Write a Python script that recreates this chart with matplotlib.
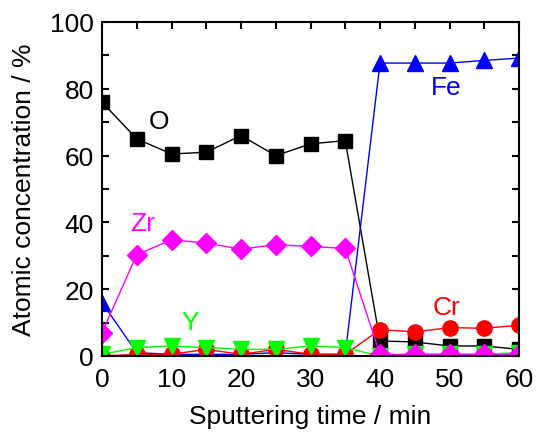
import numpy as np
import matplotlib.pyplot as plt
from matplotlib.ticker import MultipleLocator

plt.rcParams['font.family'] = ['Liberation Sans', 'DejaVu Sans']

# sputtering time (min)
t = [0, 5, 10, 15, 20, 25, 30, 35, 40, 45, 50, 55, 60]

# atomic concentrations (%)
O = [76, 65, 60.5, 61, 66, 60, 63.5, 64.5, 4.5, 4.2, 3, 3, 2]
Fe = [16, 1, 0.5, 0.5, 0.5, 1, 0.5, 0.5, 87.7, 87.7, 87.7, 88.5, 89.2]
Cr = [0, 0.5, 0.5, 2, 0.5, 2, 0.5, 0.5, 7.9, 7.2, 8.5, 8.3, 9.2]
Y = [0.5, 2.5, 3, 2.5, 2, 2, 3, 2.5, 0, 0.5, 0.5, 0.5, 1]
Zr = [7, 30.3, 34.8, 33.8, 32, 33.3, 32.8, 32.2, 0.5, 0.5, 0.5, 0.5, 0.5]

fig = plt.figure(figsize=(5.36, 4.35), dpi=100)
ax = fig.add_axes([102/536, 1 - 357/435, 417/536, 334/435])

ax.plot(t, O, color='black', marker='s', ms=10, lw=1)
ax.plot(t, Fe, color='blue', marker='^', ms=12, lw=1)
ax.plot(t, Cr, color='red', marker='o', ms=11, lw=1)
ax.plot(t, Y, color='#00ff00', marker='v', ms=12, lw=1)
ax.plot(t, Zr, color='magenta', marker='D', ms=10, lw=1)

# element labels
lab = dict(fontsize=19, ha='center', va='center')
ax.text(8.2, 70.4, 'O', color='black', **lab)
ax.text(49.5, 80.5, 'Fe', color='blue', **lab)
ax.text(5.9, 39.8, 'Zr', color='magenta', **lab)
ax.text(49.5, 14.7, 'Cr', color='red', **lab)
ax.text(12.7, 10.2, 'Y', color='#00ff00', **lab)

ax.set_xlim(0, 60)
ax.set_ylim(0, 100)
ax.xaxis.set_major_locator(MultipleLocator(10))
ax.xaxis.set_minor_locator(MultipleLocator(5))
ax.yaxis.set_major_locator(MultipleLocator(20))
ax.yaxis.set_minor_locator(MultipleLocator(10))
ax.tick_params(which='both', direction='in', top=True, right=True,
               length=5, width=1.5, labelsize=19)
ax.tick_params(axis='x', pad=8)
ax.tick_params(axis='y', pad=6)
for s in ax.spines.values():
    s.set_linewidth(1.5)

ax.set_xlabel('Sputtering time / min', fontsize=19, labelpad=9)
ax.set_ylabel('Atomic concentration / %', fontsize=19, labelpad=10)

fig.savefig('out.png', dpi=100)
